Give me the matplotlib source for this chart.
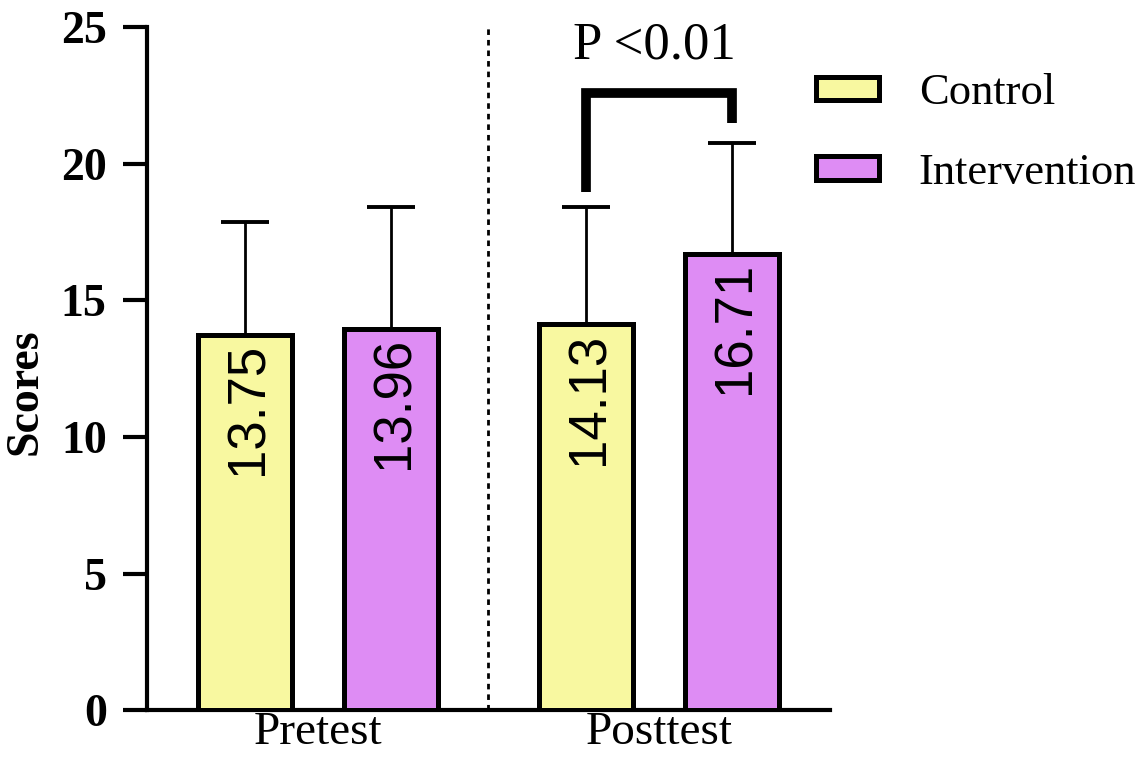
import numpy as np
import matplotlib.pyplot as plt
from matplotlib.patches import Patch

# Data
groups = ['Pretest', 'Posttest']
control_means = [13.75, 14.13]
intervention_means = [13.96, 16.71]
control_sd = [4.11, 4.28]
intervention_sd = [4.45, 4.04]
series_names = ['Control', 'Intervention']
p_text = 'P <0.01'

yellow = '#F8F8A0'
purple = '#DE8CF4'

serif = ['Liberation Serif', 'DejaVu Serif']

fig = plt.figure(figsize=(11.48, 7.57), dpi=100)
ax = fig.add_axes([0.128, 0.062, 0.595, 0.902])

x = np.arange(len(groups))
w = 0.275
off = 0.214

for xs, means, sds, col in [(x - off, control_means, control_sd, yellow),
                            (x + off, intervention_means, intervention_sd, purple)]:
    ax.bar(xs, means, width=w, color=col, edgecolor='black', linewidth=3.6, zorder=3)
    ax.errorbar(xs, means, yerr=[np.zeros(len(sds)), sds], fmt='none', ecolor='black',
                elinewidth=2, capsize=17, capthick=2.8, zorder=2)
    for xi, m in zip(xs, means):
        ax.text(xi + 0.01, m - 0.3, f'{m:.2f}', rotation=90, ha='center', va='top',
                fontsize=38, family=['Liberation Sans', 'DejaVu Sans'], zorder=4)

# dashed separator
ax.axvline(0.5, color='black', linestyle=(0, (2, 1.8)), linewidth=2)

# significance bracket
bx1, bx2 = 1 - off, 1 + off
ax.plot([bx1, bx1, bx2, bx2], [18.96, 22.6, 22.6, 21.5], color='black',
        linewidth=7, solid_capstyle='butt', solid_joinstyle='miter', clip_on=False)
ax.text(1 - 0.015, 23.85, p_text, ha='center', va='baseline', fontsize=38, family=serif)

ax.set_xlim(-0.5, 1.5)
ax.set_ylim(0, 25)
ax.set_yticks([0, 5, 10, 15, 20, 25])
ax.set_xticks(x)
ax.set_xticklabels(groups, fontsize=34, family=serif)
for lab in ax.get_yticklabels():
    lab.set_fontsize(33)
    lab.set_fontweight('bold')
    lab.set_family(serif)
ax.tick_params(axis='y', length=17, width=3, pad=12)
ax.tick_params(axis='x', length=0, pad=1)
ax.set_ylabel('Scores', fontsize=33, fontweight='bold', family=serif)
ax.yaxis.set_label_coords(-0.147, 0.467)

for s in ['top', 'right']:
    ax.spines[s].set_visible(False)
for s in ['left', 'bottom']:
    ax.spines[s].set_linewidth(3)

handles = [Patch(facecolor=yellow, edgecolor='black', linewidth=3.6),
           Patch(facecolor=purple, edgecolor='black', linewidth=3.6)]
fig.legend(handles, series_names, loc='upper left', bbox_to_anchor=(0.676, 0.956),
           frameon=False, prop={'family': serif, 'size': 32},
           handlelength=1.41, handleheight=0.44, handletextpad=0.9, labelspacing=0.89)

fig.savefig('out.png', dpi=100)
